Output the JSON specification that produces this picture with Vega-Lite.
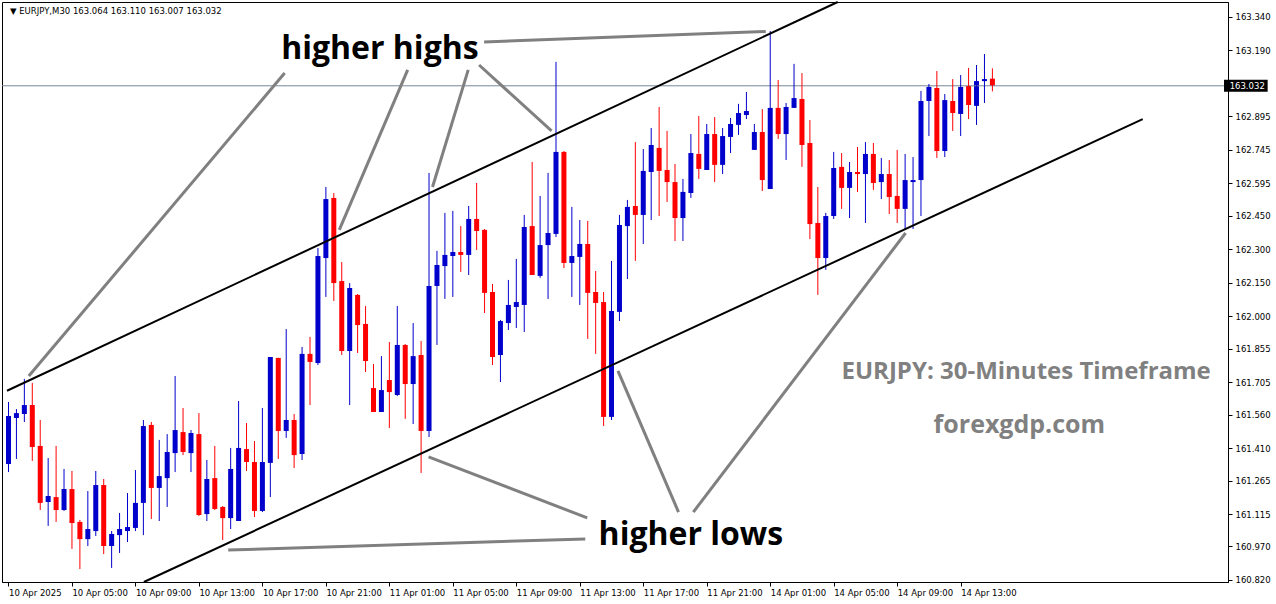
{
  "$schema": "https://vega.github.io/schema/vega-lite/v6.json",
  "autosize": "none",
  "width": 1226,
  "height": 580,
  "padding": {"left": 2, "top": 2, "right": 48, "bottom": 22},
  "background": "#ffffff",
  "config": {"view": {"stroke": "#000000", "strokeWidth": 1}, "axis": {"labelOverlap": false, "labelBound": false, "labelFlush": false}},
  "datasets": {
    "candles": [
      {"i":0,"o":161.339,"h":161.617,"l":161.303,"c":161.554},
      {"i":1,"o":161.545,"h":161.585,"l":161.362,"c":161.567},
      {"i":2,"o":161.563,"h":161.720,"l":161.527,"c":161.603},
      {"i":3,"o":161.603,"h":161.702,"l":161.353,"c":161.415},
      {"i":4,"o":161.420,"h":161.536,"l":161.133,"c":161.165},
      {"i":5,"o":161.169,"h":161.366,"l":161.062,"c":161.196},
      {"i":6,"o":161.191,"h":161.420,"l":161.080,"c":161.133},
      {"i":7,"o":161.133,"h":161.317,"l":161.129,"c":161.227},
      {"i":8,"o":161.227,"h":161.308,"l":160.959,"c":161.075},
      {"i":9,"o":161.080,"h":161.089,"l":160.869,"c":161.003},
      {"i":10,"o":161.003,"h":161.218,"l":160.972,"c":161.048},
      {"i":11,"o":161.039,"h":161.308,"l":161.017,"c":161.245},
      {"i":12,"o":161.245,"h":161.272,"l":160.936,"c":160.972},
      {"i":13,"o":160.972,"h":161.039,"l":160.874,"c":161.026},
      {"i":14,"o":161.021,"h":161.120,"l":160.941,"c":161.048},
      {"i":15,"o":161.039,"h":161.209,"l":160.990,"c":161.057},
      {"i":16,"o":161.053,"h":161.312,"l":161.039,"c":161.165},
      {"i":17,"o":161.165,"h":161.536,"l":161.021,"c":161.509},
      {"i":18,"o":161.514,"h":161.527,"l":161.093,"c":161.232},
      {"i":19,"o":161.232,"h":161.447,"l":161.084,"c":161.285},
      {"i":20,"o":161.276,"h":161.473,"l":161.147,"c":161.393},
      {"i":21,"o":161.388,"h":161.733,"l":161.303,"c":161.491},
      {"i":22,"o":161.482,"h":161.590,"l":161.379,"c":161.393},
      {"i":23,"o":161.388,"h":161.491,"l":161.303,"c":161.478},
      {"i":24,"o":161.473,"h":161.567,"l":161.106,"c":161.111},
      {"i":25,"o":161.115,"h":161.357,"l":161.084,"c":161.272},
      {"i":26,"o":161.276,"h":161.420,"l":161.133,"c":161.138},
      {"i":27,"o":161.147,"h":161.151,"l":160.999,"c":161.097},
      {"i":28,"o":161.097,"h":161.411,"l":161.048,"c":161.317},
      {"i":29,"o":161.084,"h":161.621,"l":161.084,"c":161.411},
      {"i":30,"o":161.406,"h":161.523,"l":161.308,"c":161.348},
      {"i":31,"o":161.348,"h":161.442,"l":161.102,"c":161.129},
      {"i":32,"o":161.129,"h":161.590,"l":161.124,"c":161.348},
      {"i":33,"o":161.344,"h":161.818,"l":161.191,"c":161.818},
      {"i":34,"o":161.814,"h":161.814,"l":161.362,"c":161.487},
      {"i":35,"o":161.487,"h":161.943,"l":161.456,"c":161.536},
      {"i":36,"o":161.536,"h":161.563,"l":161.321,"c":161.379},
      {"i":37,"o":161.384,"h":161.863,"l":161.357,"c":161.832},
      {"i":38,"o":161.832,"h":161.908,"l":161.603,"c":161.796},
      {"i":39,"o":161.791,"h":162.306,"l":161.782,"c":162.270},
      {"i":40,"o":162.261,"h":162.579,"l":162.087,"c":162.525},
      {"i":41,"o":162.530,"h":162.552,"l":162.069,"c":162.149},
      {"i":42,"o":162.158,"h":162.243,"l":161.827,"c":161.845},
      {"i":43,"o":161.845,"h":162.149,"l":161.603,"c":162.127},
      {"i":44,"o":162.096,"h":162.100,"l":161.836,"c":161.961},
      {"i":45,"o":161.966,"h":162.046,"l":161.751,"c":161.800},
      {"i":46,"o":161.679,"h":161.787,"l":161.572,"c":161.572},
      {"i":47,"o":161.572,"h":161.822,"l":161.572,"c":161.670},
      {"i":48,"o":161.715,"h":161.885,"l":161.500,"c":161.661},
      {"i":49,"o":161.648,"h":162.046,"l":161.643,"c":161.872},
      {"i":50,"o":161.872,"h":161.876,"l":161.541,"c":161.697},
      {"i":51,"o":161.697,"h":161.970,"l":161.518,"c":161.822},
      {"i":52,"o":161.827,"h":161.890,"l":161.299,"c":161.487},
      {"i":53,"o":161.487,"h":162.642,"l":161.460,"c":162.136},
      {"i":54,"o":162.136,"h":162.293,"l":161.872,"c":162.230},
      {"i":55,"o":162.225,"h":162.463,"l":162.078,"c":162.275},
      {"i":56,"o":162.270,"h":162.472,"l":162.087,"c":162.288},
      {"i":57,"o":162.288,"h":162.404,"l":162.199,"c":162.275},
      {"i":58,"o":162.275,"h":162.494,"l":162.185,"c":162.436},
      {"i":59,"o":162.436,"h":162.597,"l":162.297,"c":162.382},
      {"i":60,"o":162.387,"h":162.391,"l":162.015,"c":162.105},
      {"i":61,"o":162.109,"h":162.145,"l":161.782,"c":161.818},
      {"i":62,"o":161.827,"h":161.984,"l":161.706,"c":161.979},
      {"i":63,"o":161.970,"h":162.163,"l":161.939,"c":162.051},
      {"i":64,"o":162.042,"h":162.257,"l":161.948,"c":162.064},
      {"i":65,"o":162.051,"h":162.454,"l":161.930,"c":162.400},
      {"i":66,"o":162.404,"h":162.691,"l":162.185,"c":162.185},
      {"i":67,"o":162.181,"h":162.539,"l":162.172,"c":162.319},
      {"i":68,"o":162.319,"h":162.642,"l":162.078,"c":162.373},
      {"i":69,"o":162.369,"h":163.139,"l":162.355,"c":162.736},
      {"i":70,"o":162.736,"h":162.740,"l":162.216,"c":162.239},
      {"i":71,"o":162.239,"h":162.490,"l":162.087,"c":162.270},
      {"i":72,"o":162.266,"h":162.431,"l":162.051,"c":162.324},
      {"i":73,"o":162.324,"h":162.427,"l":161.899,"c":162.105},
      {"i":74,"o":162.109,"h":162.203,"l":161.832,"c":162.060},
      {"i":75,"o":162.064,"h":162.109,"l":161.509,"c":161.550},
      {"i":76,"o":161.550,"h":162.248,"l":161.536,"c":162.024},
      {"i":77,"o":162.020,"h":162.454,"l":161.979,"c":162.409},
      {"i":78,"o":162.404,"h":162.521,"l":162.167,"c":162.490},
      {"i":79,"o":162.494,"h":162.780,"l":162.248,"c":162.454},
      {"i":80,"o":162.454,"h":162.749,"l":162.324,"c":162.651},
      {"i":81,"o":162.646,"h":162.843,"l":162.431,"c":162.767},
      {"i":82,"o":162.754,"h":162.937,"l":162.449,"c":162.651},
      {"i":83,"o":162.655,"h":162.830,"l":162.512,"c":162.601},
      {"i":84,"o":162.601,"h":162.682,"l":162.337,"c":162.440},
      {"i":85,"o":162.440,"h":162.615,"l":162.337,"c":162.557},
      {"i":86,"o":162.552,"h":162.816,"l":162.530,"c":162.731},
      {"i":87,"o":162.727,"h":162.897,"l":162.615,"c":162.660},
      {"i":88,"o":162.655,"h":162.861,"l":162.655,"c":162.816},
      {"i":89,"o":162.816,"h":162.892,"l":162.601,"c":162.678},
      {"i":90,"o":162.678,"h":162.843,"l":162.637,"c":162.807},
      {"i":91,"o":162.803,"h":162.888,"l":162.731,"c":162.861},
      {"i":92,"o":162.857,"h":162.951,"l":162.812,"c":162.910},
      {"i":93,"o":162.901,"h":163.004,"l":162.883,"c":162.919},
      {"i":94,"o":162.745,"h":162.861,"l":162.745,"c":162.825},
      {"i":95,"o":162.825,"h":162.928,"l":162.561,"c":162.610},
      {"i":96,"o":162.570,"h":163.277,"l":162.570,"c":162.933},
      {"i":97,"o":162.933,"h":163.058,"l":162.794,"c":162.816},
      {"i":98,"o":162.816,"h":162.955,"l":162.700,"c":162.937},
      {"i":99,"o":162.933,"h":163.130,"l":162.933,"c":162.977},
      {"i":100,"o":162.973,"h":163.089,"l":162.669,"c":162.767},
      {"i":101,"o":162.776,"h":162.879,"l":162.346,"c":162.413},
      {"i":102,"o":162.418,"h":162.579,"l":162.096,"c":162.261},
      {"i":103,"o":162.261,"h":162.463,"l":162.208,"c":162.449},
      {"i":104,"o":162.449,"h":162.736,"l":162.436,"c":162.664},
      {"i":105,"o":162.669,"h":162.731,"l":162.481,"c":162.575},
      {"i":106,"o":162.575,"h":162.691,"l":162.440,"c":162.646},
      {"i":107,"o":162.646,"h":162.758,"l":162.557,"c":162.637},
      {"i":108,"o":162.637,"h":162.780,"l":162.418,"c":162.727},
      {"i":109,"o":162.727,"h":162.776,"l":162.566,"c":162.597},
      {"i":110,"o":162.601,"h":162.709,"l":162.525,"c":162.637},
      {"i":111,"o":162.637,"h":162.700,"l":162.458,"c":162.534},
      {"i":112,"o":162.539,"h":162.745,"l":162.418,"c":162.481},
      {"i":113,"o":162.481,"h":162.727,"l":162.391,"c":162.610},
      {"i":114,"o":162.601,"h":162.713,"l":162.391,"c":162.610},
      {"i":115,"o":162.610,"h":163.009,"l":162.449,"c":162.964},
      {"i":116,"o":162.964,"h":163.040,"l":162.807,"c":163.027},
      {"i":117,"o":163.022,"h":163.098,"l":162.709,"c":162.740},
      {"i":118,"o":162.740,"h":162.995,"l":162.713,"c":162.968},
      {"i":119,"o":162.964,"h":163.062,"l":162.830,"c":162.910},
      {"i":120,"o":162.906,"h":163.080,"l":162.807,"c":163.027},
      {"i":121,"o":163.031,"h":163.112,"l":162.883,"c":162.946},
      {"i":122,"o":162.942,"h":163.125,"l":162.857,"c":163.053},
      {"i":123,"o":163.053,"h":163.174,"l":162.955,"c":163.062},
      {"i":124,"o":163.064,"h":163.110,"l":163.007,"c":163.032}
    ],
    "channel": [
      {"a":-0.1875,"pa":161.667,"b":104.51,"pb":163.407},
      {"a":17.06,"pa":160.811,"b":142.94,"pb":162.883}
    ],
    "pointers": [
      {"a":34.81,"pa":163.089,"b":2.56,"pb":161.733},
      {"a":50.31,"pa":163.103,"b":41.69,"pb":162.387},
      {"a":57.94,"pa":163.103,"b":53.44,"pb":162.579},
      {"a":59.31,"pa":163.125,"b":68.44,"pb":162.830},
      {"a":59.94,"pa":163.228,"b":95.44,"pb":163.275},
      {"a":27.69,"pa":160.954,"b":72.69,"pb":161.004},
      {"a":52.94,"pa":161.371,"b":72.94,"pb":161.098},
      {"a":76.81,"pa":161.756,"b":84.44,"pb":161.124},
      {"a":113.06,"pa":162.373,"b":86.31,"pb":161.124}
    ],
    "big": [
      {"x":46.81,"p":163.152,"t":"higher highs"},
      {"x":86.0,"p":160.977,"t":"higher lows"}
    ],
    "title1": [
      {"x":128.25,"p":161.751,"t":"EURJPY: 30-Minutes Timeframe"}
    ],
    "title2": [
      {"x":127.4,"p":161.514,"t":"forexgdp.com"}
    ],
    "header": [
      {"x":0.19,"p":163.367,"t":"▼ EURJPY,M30  163.064 163.110 163.007 163.032"}
    ],
    "bid": [
      {"p":163.032,"x":153.19,"x2":158.69,"top":163.059,"bot":163.005,"tx":153.9,"t":"163.032"}
    ]
  },
  "layer": [
    {
      "data": {"name": "candles"},
      "mark": {"type": "bar", "size": 5},
      "encoding": {
        "x": {
          "field": "i", "type": "quantitative",
          "scale": {"domain": [-0.1875, 153.0625], "nice": false, "zero": false},
          "axis": {
            "title": null, "grid": false, "tickCount": 200,
            "values": [0,8,16,24,32,40,48,56,64,72,80,88,96,104,112,120],
            "labelExpr": "['10 Apr 2025','10 Apr 05:00','10 Apr 09:00','10 Apr 13:00','10 Apr 17:00','10 Apr 21:00','11 Apr 01:00','11 Apr 05:00','11 Apr 09:00','11 Apr 13:00','11 Apr 17:00','11 Apr 21:00','14 Apr 01:00','14 Apr 05:00','14 Apr 09:00','14 Apr 13:00'][datum.value/8]",
            "labelAlign": "left", "labelBaseline": "top", "labelOffset": 0, "labelPadding": 2,
            "labelFont": "DejaVu Sans", "labelFontSize": 8.5, "labelColor": "#000000",
            "tickColor": "#000000", "tickSize": 4, "domainColor": "#000000", "labelOverlap": false, "labelFlush": false
          }
        },
        "y": {
          "field": "o", "type": "quantitative",
          "scale": {"domain": [160.811, 163.407], "nice": false, "zero": false},
          "axis": {
            "orient": "right", "title": null, "grid": false, "tickCount": 200,
            "values": [163.34,163.19,162.895,162.745,162.595,162.45,162.3,162.15,162.0,161.855,161.705,161.56,161.41,161.265,161.115,160.97,160.82],
            "format": ".3f",
            "labelFont": "DejaVu Sans", "labelFontSize": 8.5, "labelColor": "#000000", "labelPadding": 3,
            "tickColor": "#000000", "tickSize": 4, "domainColor": "#000000", "labelOverlap": false, "labelFlush": false
          }
        },
        "y2": {"field": "c"},
        "color": {"condition": {"test": "datum.c > datum.o", "value": "#0000CC"}, "value": "#FF0000"}
      }
    },
    {
      "data": {"name": "bid"},
      "mark": {"type": "rule", "color": "#778899", "strokeWidth": 1},
      "encoding": {
        "y": {"field": "p", "type": "quantitative", "title": null}
      }
    },
    {
      "data": {"name": "candles"},
      "mark": {"type": "rule", "strokeWidth": 1},
      "encoding": {
        "x": {"field": "i", "type": "quantitative", "title": null},
        "y": {"field": "l", "type": "quantitative", "title": null},
        "y2": {"field": "h"},
        "color": {"condition": {"test": "datum.c > datum.o", "value": "#0000CC"}, "value": "#FF0000"}
      }
    },
    {
      "data": {"name": "channel"},
      "mark": {"type": "rule", "color": "#000000", "strokeWidth": 2},
      "encoding": {
        "x": {"field": "a", "type": "quantitative", "title": null},
        "y": {"field": "pa", "type": "quantitative", "title": null},
        "x2": {"field": "b"},
        "y2": {"field": "pb"}
      }
    },
    {
      "data": {"name": "pointers"},
      "mark": {"type": "rule", "color": "#808080", "strokeWidth": 3},
      "encoding": {
        "x": {"field": "a", "type": "quantitative", "title": null},
        "y": {"field": "pa", "type": "quantitative", "title": null},
        "x2": {"field": "b"},
        "y2": {"field": "pb"}
      }
    },
    {
      "data": {"name": "big"},
      "mark": {"type": "text", "font": "Open Sans", "fontWeight": "bold", "fontSize": 32, "color": "#000000", "align": "center", "baseline": "alphabetic"},
      "encoding": {
        "x": {"field": "x", "type": "quantitative", "title": null},
        "y": {"field": "p", "type": "quantitative", "title": null},
        "text": {"field": "t"}
      }
    },
    {
      "data": {"name": "title1"},
      "mark": {"type": "text", "font": "Open Sans", "fontWeight": "bold", "fontSize": 24, "color": "#808080", "align": "center", "baseline": "middle"},
      "encoding": {
        "x": {"field": "x", "type": "quantitative", "title": null},
        "y": {"field": "p", "type": "quantitative", "title": null},
        "text": {"field": "t"}
      }
    },
    {
      "data": {"name": "title2"},
      "mark": {"type": "text", "font": "Open Sans", "fontWeight": "bold", "fontSize": 25, "color": "#808080", "align": "center", "baseline": "middle"},
      "encoding": {
        "x": {"field": "x", "type": "quantitative", "title": null},
        "y": {"field": "p", "type": "quantitative", "title": null},
        "text": {"field": "t"}
      }
    },
    {
      "data": {"name": "header"},
      "mark": {"type": "text", "font": "DejaVu Sans", "fontSize": 8.5, "color": "#000000", "align": "left", "baseline": "middle"},
      "encoding": {
        "x": {"field": "x", "type": "quantitative", "title": null},
        "y": {"field": "p", "type": "quantitative", "title": null},
        "text": {"field": "t"}
      }
    },
    {
      "data": {"name": "bid"},
      "mark": {"type": "rect", "color": "#000000"},
      "encoding": {
        "x": {"field": "x", "type": "quantitative", "title": null},
        "x2": {"field": "x2"},
        "y": {"field": "top", "type": "quantitative", "title": null},
        "y2": {"field": "bot"}
      }
    },
    {
      "data": {"name": "bid"},
      "mark": {"type": "text", "font": "DejaVu Sans", "fontSize": 8.5, "color": "#ffffff", "align": "left", "baseline": "middle"},
      "encoding": {
        "x": {"field": "tx", "type": "quantitative", "title": null},
        "y": {"field": "p", "type": "quantitative", "title": null},
        "text": {"field": "t"}
      }
    }
  ]
}
